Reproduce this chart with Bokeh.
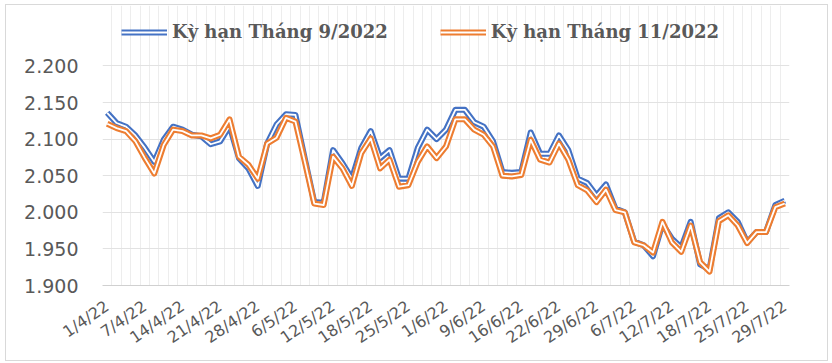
from bokeh.plotting import figure
from bokeh.models import Legend, LegendItem, FixedTicker, Range1d
from bokeh.embed import file_html
from bokeh.resources import INLINE

series_names = ["Kỳ hạn Tháng 9/2022", "Kỳ hạn Tháng 11/2022"]

ky_han_9 = [2136, 2122, 2117, 2105, 2088, 2069, 2099, 2117, 2113, 2106,
            2104, 2093, 2097, 2118, 2074, 2060, 2036, 2094, 2120, 2134,
            2133, 2073, 2014, 2013, 2085, 2067, 2046, 2088, 2111, 2074,
            2085, 2046, 2046, 2088, 2113, 2100, 2113, 2140, 2140, 2123,
            2117, 2097, 2055, 2054, 2055, 2109, 2080, 2080, 2105, 2085,
            2046, 2040, 2023, 2038, 2005, 2000, 1960, 1955, 1940, 1984,
            1964, 1952, 1987, 1929, 1922, 1992, 2000, 1987, 1959, 1973,
            1973, 2010, 2016]

ky_han_11 = [2121, 2115, 2111, 2097, 2074, 2053, 2092, 2113, 2111, 2105,
             2105, 2101, 2106, 2127, 2076, 2065, 2046, 2094, 2102, 2129,
             2124, 2069, 2012, 2010, 2076, 2060, 2036, 2081, 2101, 2060,
             2072, 2035, 2037, 2069, 2090, 2074, 2090, 2127, 2127, 2113,
             2106, 2090, 2050, 2049, 2051, 2099, 2072, 2068, 2094, 2072,
             2037, 2030, 2014, 2031, 2003, 2000, 1959, 1955, 1945, 1987,
             1959, 1946, 1982, 1932, 1919, 1988, 1996, 1982, 1958, 1973,
             1973, 2007, 2012]

date_labels = ["1/4/22", "7/4/22", "14/4/22", "21/4/22", "28/4/22", "6/5/22",
               "12/5/22", "18/5/22", "25/5/22", "1/6/22", "9/6/22", "16/6/22",
               "22/6/22", "29/6/22", "6/7/22", "12/7/22", "18/7/22", "25/7/22",
               "29/7/22"]
label_step = 4

y_ticks = [1900, 1950, 2000, 2050, 2100, 2150, 2200]
y_tick_labels = ["1.900", "1.950", "2.000", "2.050", "2.100", "2.150", "2.200"]

colors = ["#4472C4", "#ED7D31"]
gray_text = "#595959"

n = len(ky_han_9)
xs = list(range(n))

# frame spans canvas-y 0..278; value axis 1900 at 278px, 2200 at 60px
frame_h = 278
px_top_gap = 60
y_lo, y_hi = y_ticks[0], y_ticks[-1]
y_top = y_hi + px_top_gap * (y_hi - y_lo) / (frame_h - px_top_gap)

p = figure(width=823, height=357, output_backend="svg", toolbar_location=None,
           x_range=Range1d(-0.5, n - 0.5), y_range=Range1d(y_lo, y_top),
           min_border_left=96, min_border_right=40, min_border_top=0,
           min_border_bottom=77)
p.styles = {"border": "1px solid #d9d9d9", "margin": "4px 0px 0px 5px"}
p.outline_line_color = None
p.border_fill_color = "white"
p.background_fill_color = "white"

# grids (limited to the value span)
p.ygrid.ticker = FixedTicker(ticks=y_ticks)
p.ygrid.grid_line_color = "#e2e2e2"
p.ygrid.grid_line_width = 1
p.xgrid.ticker = FixedTicker(ticks=[k - 0.5 for k in range(n + 1)])
p.xgrid.grid_line_color = "#ededed"
p.xgrid.grid_line_width = 1
p.xgrid.bounds = (y_lo, y_hi)

# y axis
p.yaxis.ticker = FixedTicker(ticks=y_ticks)
p.yaxis.major_label_overrides = {t: s for t, s in zip(y_ticks, y_tick_labels)}
p.yaxis.axis_line_color = None
p.yaxis.major_tick_line_color = None
p.yaxis.minor_tick_line_color = None
p.yaxis.major_tick_out = 0
p.yaxis.major_tick_in = 0
p.yaxis.major_label_standoff = 24
p.yaxis.major_label_text_font = "DejaVu Sans"
p.yaxis.major_label_text_font_size = "19px"
p.yaxis.major_label_text_color = gray_text

# x axis
tick_pos = [k * label_step for k in range(len(date_labels))]
p.xaxis.ticker = FixedTicker(ticks=tick_pos)
p.xaxis.major_label_overrides = {t: s for t, s in zip(tick_pos, date_labels)}
p.xaxis.axis_line_color = "#d0d0d0"
p.xaxis.major_tick_line_color = None
p.xaxis.minor_tick_line_color = None
p.xaxis.major_tick_out = 0
p.xaxis.major_tick_in = 0
p.xaxis.major_label_standoff = 19
p.xaxis.major_label_orientation = 0.6
p.xaxis.major_label_text_font = "DejaVu Sans"
p.xaxis.major_label_text_font_size = "16px"
p.xaxis.major_label_text_color = gray_text

items = []
for vals, col, name in zip([ky_han_9, ky_han_11], colors, series_names):
    r1 = p.line(xs, vals, line_color=col, line_width=6, line_join="round")
    r2 = p.line(xs, vals, line_color="white", line_width=1.8, line_join="round")
    items.append(LegendItem(label=name, renderers=[r1, r2]))

legend = Legend(items=items, orientation="horizontal", location=(19, 243))
legend.padding = 0
legend.margin = 0
legend.spacing = 52
legend.glyph_width = 46
legend.glyph_height = 20
legend.label_standoff = 5
legend.label_height = 20
legend.border_line_color = None
legend.background_fill_alpha = 0
legend.label_text_font = "DejaVu Serif"
legend.label_text_font_style = "bold"
legend.label_text_font_size = "18px"
legend.label_text_color = gray_text
p.add_layout(legend, "center")

html = file_html(p, INLINE)
open("out.html", "w").write(html)
